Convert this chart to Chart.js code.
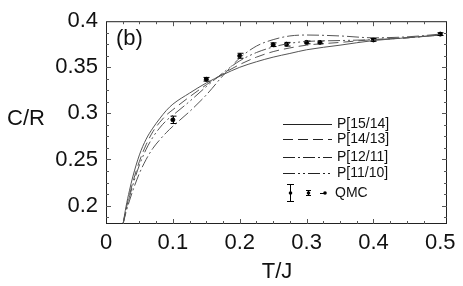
<!DOCTYPE html>
<html lang="en">
<head>
  <meta charset="UTF-8">
  <title>C/R vs T/J</title>
  <script src="https://cdn.jsdelivr.net/npm/chart.js"></script>
  <style>
    body { margin: 0; background: #fff; }
    #wrap { width: 463px; height: 286px; }
  </style>
</head>
<body>
<div id="wrap"><canvas id="chart" width="463" height="286"></canvas></div>
<script>
// tick positions
const xTicks = [0, 0.1, 0.2, 0.3, 0.4, 0.5];
const yTicks = [0.2, 0.25, 0.3, 0.35, 0.4];

// Pade approximant curves (T/J, C/R)
const tGrid = [0.0255, 0.03, 0.035, 0.04, 0.05, 0.06, 0.07, 0.08, 0.09, 0.1, 0.125, 0.15, 0.175, 0.2, 0.225, 0.25, 0.275, 0.3, 0.35, 0.4, 0.45, 0.5];
const p1514 = [0.18, 0.199, 0.216, 0.231, 0.255, 0.272, 0.284, 0.294, 0.303, 0.310, 0.322, 0.333, 0.342, 0.350, 0.356, 0.361, 0.365, 0.369, 0.374, 0.379, 0.382, 0.385];
const p1413 = [0.18, 0.196, 0.211, 0.225, 0.248, 0.266, 0.280, 0.290, 0.298, 0.304, 0.318, 0.331, 0.343, 0.353, 0.361, 0.367, 0.371, 0.374, 0.377, 0.380, 0.382, 0.385];
const p1211 = [0.18, 0.193, 0.205, 0.216, 0.235, 0.250, 0.262, 0.271, 0.279, 0.286, 0.302, 0.320, 0.341, 0.360, 0.373, 0.380, 0.384, 0.385, 0.384, 0.382, 0.383, 0.386];
const p1110 = [0.18, 0.195, 0.209, 0.222, 0.244, 0.261, 0.274, 0.284, 0.292, 0.298, 0.313, 0.329, 0.344, 0.357, 0.366, 0.372, 0.376, 0.378, 0.379, 0.380, 0.382, 0.385];

// QMC data with error bars
const qmcT = [0.1, 0.15, 0.2, 0.25, 0.27, 0.3, 0.32, 0.4, 0.5];
const qmcC = [0.293, 0.337, 0.3625, 0.3745, 0.375, 0.377, 0.377, 0.3797, 0.386];
const qmcErr = [0.004, 0.002, 0.0027, 0.002, 0.002, 0.0015, 0.0015, 0.0015, 0.0015];

const seriesNames = ['P[15/14]', 'P[14/13]', 'P[12/11]', 'P[11/10]'];
const dashes = [[], [10, 5], [12, 3, 2, 3], [12, 3, 2, 3, 2, 3]];

const FONT = '"Liberation Sans", Arial, sans-serif';
const pts = arr => tGrid.map((t, i) => ({ x: t, y: arr[i] }));

const curveSets = [p1514, p1413, p1211, p1110].map((arr, i) => ({
  label: seriesNames[i],
  data: pts(arr),
  borderColor: '#555',
  borderWidth: 1,
  borderDash: dashes[i],
  pointRadius: 0,
  cubicInterpolationMode: 'monotone',
  fill: false
}));

const qmcSet = {
  label: 'QMC',
  data: qmcT.map((t, i) => ({ x: t, y: qmcC[i] })),
  showLine: false,
  pointRadius: 2,
  pointBackgroundColor: '#000',
  pointBorderColor: '#000'
};

// frame, inward ticks, error bars, legend and free texts
const decor = {
  id: 'decor',
  afterDatasetsDraw(chart) {
    const { ctx, chartArea: a, scales: { x, y } } = chart;
    ctx.save();
    // error bars
    ctx.strokeStyle = '#000';
    ctx.lineWidth = 1;
    qmcT.forEach((t, i) => {
      const px = Math.round(x.getPixelForValue(t)) + 0.5;
      const top = y.getPixelForValue(qmcC[i] + qmcErr[i]);
      const bot = y.getPixelForValue(qmcC[i] - qmcErr[i]);
      ctx.beginPath();
      ctx.moveTo(px, top); ctx.lineTo(px, bot);
      ctx.moveTo(px - 3, top); ctx.lineTo(px + 3, top);
      ctx.moveTo(px - 3, bot); ctx.lineTo(px + 3, bot);
      ctx.stroke();
    });

    // frame
    ctx.strokeStyle = '#222';
    ctx.strokeRect(a.left + 0.5, a.top + 0.5, a.right - a.left - 1, a.bottom - a.top - 1);

    // inward ticks every 0.025
    ctx.strokeStyle = '#555';
    ctx.beginPath();
    for (let v = 0.025; v < 0.5; v += 0.025) {
      const px = Math.round(x.getPixelForValue(v)) + 0.5;
      const len = Math.abs((v * 10) - Math.round(v * 10)) < 1e-6 ? 5 : 3;
      ctx.moveTo(px, a.bottom); ctx.lineTo(px, a.bottom - len);
      ctx.moveTo(px, a.top); ctx.lineTo(px, a.top + len);
    }
    for (let v = 0.1875; v < 0.4; v += 0.0125) {
      const py = Math.round(y.getPixelForValue(v)) + 0.5;
      const len = Math.abs((v * 20) - Math.round(v * 20)) < 1e-6 ? 5 : 3;
      ctx.moveTo(a.left, py); ctx.lineTo(a.left + len, py);
      ctx.moveTo(a.right, py); ctx.lineTo(a.right - len, py);
    }
    ctx.stroke();

    // legend
    const lx0 = 283, lx1 = 332, tx = 337;
    const rows = [124, 139, 157, 173];
    ctx.font = '14px ' + FONT;
    ctx.textBaseline = 'middle';
    ctx.fillStyle = '#111';
    rows.forEach((ry, i) => {
      ctx.strokeStyle = '#222';
      ctx.setLineDash(dashes[i]);
      ctx.beginPath();
      ctx.moveTo(lx0, ry + 0.5); ctx.lineTo(lx1, ry + 0.5);
      ctx.stroke();
      ctx.setLineDash([]);
      ctx.fillText(seriesNames[i], tx, ry);
    });
    // QMC legend symbols
    const qy = 193;
    ctx.strokeStyle = '#000';
    ctx.beginPath();
    ctx.moveTo(290.5, 184); ctx.lineTo(290.5, 202);
    ctx.moveTo(287, 184.5); ctx.lineTo(294, 184.5);
    ctx.moveTo(287, 201.5); ctx.lineTo(294, 201.5);
    ctx.moveTo(308.5, 190); ctx.lineTo(308.5, 196);
    ctx.moveTo(306, 190.5); ctx.lineTo(311, 190.5);
    ctx.moveTo(306, 195.5); ctx.lineTo(311, 195.5);
    ctx.moveTo(320, qy + 0.5); ctx.lineTo(326, qy + 0.5);
    ctx.stroke();
    ctx.fillStyle = '#000';
    [[290.5, qy], [308.5, qy], [325, qy]].forEach(([cx, cy]) => {
      ctx.beginPath(); ctx.arc(cx, cy, 1.8, 0, Math.PI * 2); ctx.fill();
    });
    ctx.fillStyle = '#111';
    ctx.fillText('QMC', 335, qy);

    // panel label and axis titles
    ctx.font = '22px ' + FONT;
    ctx.textAlign = 'left';
    ctx.fillText('(b)', 116, 39);
    ctx.fillText('C/R', 7, 119);
    ctx.textAlign = 'center';
    ctx.fillText('T/J', 277, 272);
    ctx.restore();
  }
};

new Chart(document.getElementById('chart'), {
  type: 'line',
  data: { datasets: [...curveSets, qmcSet] },
  options: {
    responsive: false,
    animation: false,
    layout: { padding: { top: 15, right: 16, left: 0, bottom: 0 } },
    plugins: { legend: { display: false }, tooltip: { enabled: false } },
    scales: {
      x: {
        type: 'linear',
        min: 0,
        max: 0.51,
        afterBuildTicks: s => { s.ticks = xTicks.map(v => ({ value: v })); },
        afterFit: s => { s.height = 62; },
        grid: { drawOnChartArea: false, drawTicks: false },
        border: { display: false },
        ticks: {
          padding: 6,
          maxRotation: 0,
          color: '#111',
          font: { family: FONT, size: 22 },
          callback: v => String(Math.round(v * 10) / 10)
        }
      },
      y: {
        min: 0.18,
        max: 0.4,
        afterBuildTicks: s => { s.ticks = yTicks.map(v => ({ value: v })); },
        afterFit: s => { s.width = 106; },
        grid: { drawOnChartArea: false, drawTicks: false },
        border: { display: false },
        ticks: {
          padding: 8,
          color: '#111',
          font: { family: FONT, size: 22 },
          callback: v => String(Math.round(v * 100) / 100)
        }
      }
    }
  },
  plugins: [decor]
});
</script>
</body>
</html>
